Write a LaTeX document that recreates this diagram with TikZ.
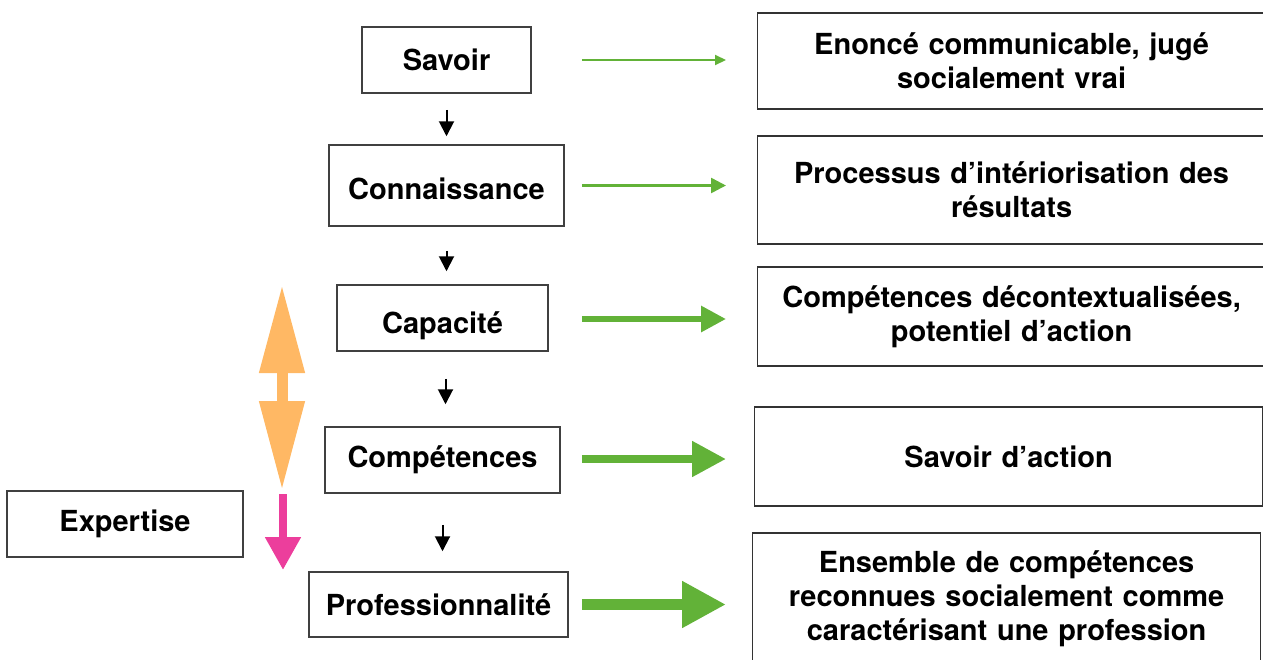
\documentclass[tikz,border=0pt]{standalone}
\usepackage{fontspec}
\setmainfont{TeX Gyre Heros}
\usetikzlibrary{positioning,arrows.meta,calc}
\definecolor{leafgreen}{RGB}{98,178,56}
\definecolor{peach}{RGB}{255,184,100}
\definecolor{fuchsia}{RGB}{236,62,156}
\tikzset{
  conceptbox/.style={draw=black!75,line width=1.5pt,minimum height=66pt,inner sep=2pt,
    font=\fontsize{29}{34}\selectfont\bfseries},
  defbox/.style={draw=black!80,line width=1.2pt,anchor=west,text width=502pt,inner xsep=3pt,
    align=center,font=\fontsize{29}{34}\selectfont\bfseries},
  nextarrow/.style={draw,line width=2pt,-{Triangle[length=15pt,width=15pt]}},
  defarrow/.style={draw=leafgreen,leafgreen},
}

\begin{document}
\begin{tikzpicture}[x=1pt,y=-1pt]
\useasboundingbox (0,0) rectangle (1263,659);
\clip (0,0) rectangle (1263,659);

% left column
\node[conceptbox,minimum width=169pt] (savoir) at (446.5,60) {Savoir};
\node[conceptbox,minimum width=235pt,minimum height=81pt,text height=27pt,text depth=0pt] (connaissance) at (446.5,185.5) {Connaissance};
\node[conceptbox,minimum width=211pt,text height=31pt,text depth=0pt] (capacite) at (442.5,318) {Capacité};
\node[conceptbox,minimum width=235pt] (competences) at (442.5,460) {Compétences};
\node[conceptbox,minimum width=259pt,minimum height=65pt] (profession) at (438.5,604.5) {Professionnalité};
\node[conceptbox,minimum width=236pt] (expertise) at (125,524) {Expertise};

% right column
\node[defbox,minimum height=96pt] (enonce) at (757,61) {Enoncé communicable, jugé\\socialement vrai};
\node[defbox,minimum height=108pt] (processus) at (757,190) {Processus d’intériorisation des\\résultats};
\node[defbox,minimum height=99pt] (decontexte) at (757,316.5) {Compétences décontextualisées,\\potentiel d’action};
\node[defbox,minimum height=99pt] (action) at (754,456.5) {Savoir d’action};
\node[defbox,minimum height=132pt] (ensemble) at (752,599) {Ensemble de compétences\\reconnues socialement comme\\caractérisant une profession};

% steps down the column
\path[nextarrow,shorten <=16pt,shorten >=8pt] (savoir.south) -- (savoir.south |- connaissance.north);
\path[nextarrow,shorten <=24pt,shorten >=13pt] (connaissance.south) -- (connaissance.south |- capacite.north);
\path[nextarrow,shorten <=27pt,shorten >=22pt] ([xshift=3pt]capacite.south) -- ([xshift=3pt]capacite.south |- competences.north);
\path[nextarrow,shorten <=31pt,shorten >=20pt] (competences.south) -- (competences.south |- profession.north);

% green arrows towards the definitions
\draw[defarrow,line width=2pt,-{Triangle[length=11pt,width=10pt]},shorten <=50pt,shorten >=31pt]
  (savoir.east) -- (enonce.west |- savoir.east);
\draw[defarrow,line width=2.5pt,-{Triangle[length=15pt,width=15pt]},shorten <=17pt,shorten >=31pt]
  (connaissance.east) -- (processus.west |- connaissance.east);
\draw[defarrow,line width=6pt,-{Triangle[length=25pt,width=25pt]},shorten <=33pt,shorten >=31pt]
  ([yshift=-1pt]capacite.east) -- ([yshift=-1pt]decontexte.west |- capacite.east);
\draw[defarrow,line width=8pt,-{Triangle[length=34pt,width=34pt]},shorten <=21pt,shorten >=28pt]
  ([yshift=1pt]competences.east) -- ([yshift=1pt]action.west |- competences.east);
\draw[defarrow,line width=11pt,-{Triangle[length=44pt,width=44pt]},shorten <=13pt,shorten >=26pt]
  (profession.east) -- (ensemble.west |- profession.east);

% range of the levels and move to expertise
\coordinate (rangetop) at (282,285);
\coordinate (rangebottom) at (282,490);
\coordinate (expstart) at (283,494);
\coordinate (expend) at (283,570);
\draw[peach,line width=11pt,{Triangle[length=88pt,width=43pt]}-{Triangle[length=89pt,width=43pt]}]
  (rangetop) -- (rangebottom);
\draw[fuchsia,line width=8pt,-{Triangle[length=33pt,width=34pt]}] (expstart) -- (expend);

\end{tikzpicture}
\end{document}
